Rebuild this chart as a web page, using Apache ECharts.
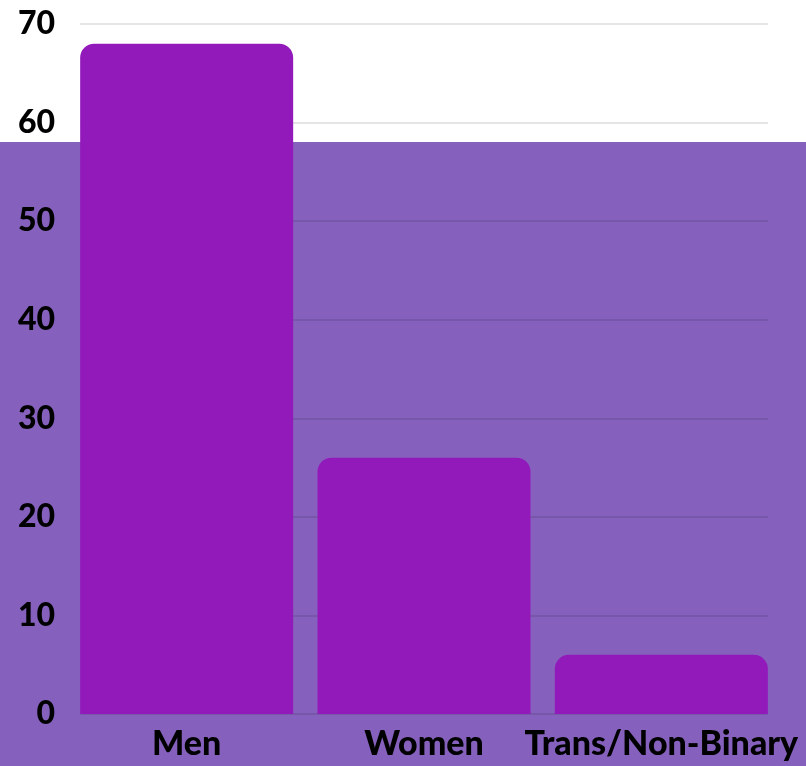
<!DOCTYPE html>
<html>
<head>
<meta charset="utf-8">
<script src="https://cdn.jsdelivr.net/npm/echarts@6/dist/echarts.min.js"></script>
<style>
html,body{margin:0;padding:0;background:#ffffff;}
#chart{width:806px;height:766px;}
</style>
</head>
<body>
<div id="chart"></div>
<script>
const categories = ["Men", "Women", "Trans/Non-Binary"];
const values = [68, 26, 6];
const yTicks = [0, 10, 20, 30, 40, 50, 60, 70];

const chart = echarts.init(document.getElementById('chart'), null, {renderer: 'canvas'});
const fontFamily = 'Lato, "Open Sans", sans-serif';
const option = {
  animation: false,
  backgroundColor: '#ffffff',
  graphic: [{
    type: 'rect',
    z: -10,
    silent: true,
    shape: {x: 0, y: 142, width: 806, height: 624},
    style: {fill: '#8561BD'}
  }],
  grid: [
    {left: 80, right: 38, top: 24, bottom: 52},
    {left: 68, right: 26, top: 24, bottom: 52}
  ],
  xAxis: [
    {gridIndex: 0, type: 'category', data: categories, axisLine: {show: false}, axisTick: {show: false}, axisLabel: {show: false}},
    {gridIndex: 1, type: 'category', data: categories, axisLine: {show: false}, axisTick: {show: false},
     axisLabel: {color: '#000', fontFamily: fontFamily, fontWeight: 900, fontSize: 34, lineHeight: 32, margin: 14, interval: 0}}
  ],
  yAxis: [
    {gridIndex: 0, type: 'value', min: yTicks[0], max: yTicks[yTicks.length - 1], interval: 10,
     axisLine: {show: false}, axisTick: {show: false},
     axisLabel: {color: '#000', fontFamily: fontFamily, fontWeight: 900, fontSize: 32, margin: 25},
     splitLine: {lineStyle: {color: 'rgba(0,0,0,0.1)', width: 2}}},
    {gridIndex: 1, type: 'value', min: yTicks[0], max: yTicks[yTicks.length - 1], interval: 10, show: false, splitLine: {show: false}}
  ],
  series: [{
    type: 'bar',
    xAxisIndex: 1,
    yAxisIndex: 1,
    data: values,
    barWidth: 213,
    itemStyle: {color: '#931ABA', borderRadius: [14, 14, 0, 0]}
  }]
};
chart.setOption(option);
</script>
</body>
</html>
